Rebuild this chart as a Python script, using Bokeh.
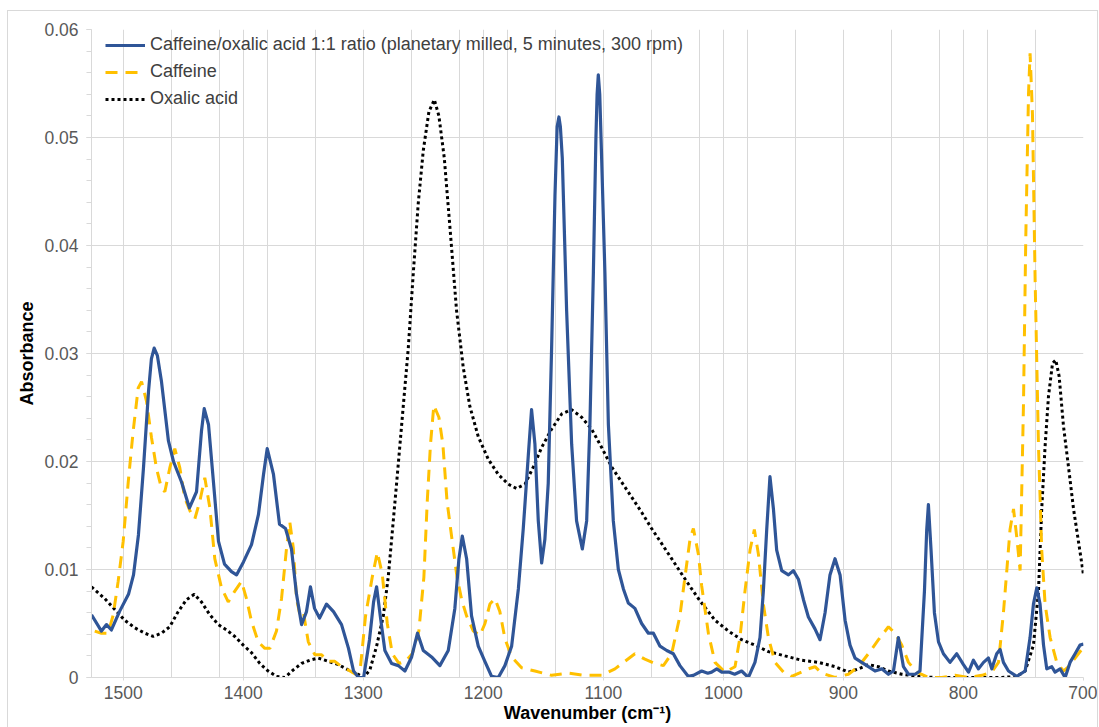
from bokeh.plotting import figure
from bokeh.models import Range1d, FixedTicker, CustomJSTickFormatter, Legend, LegendItem
from bokeh.embed import file_html
from bokeh.resources import INLINE

# ATR-IR absorbance spectra, (wavenumber cm^-1, absorbance)
MIXTURE = [
    (1526.4, 0.0058), (1518.1, 0.0043), (1513.9, 0.0049), (1509.8, 0.0044), (1503.1, 0.0061),
    (1495.6, 0.0077), (1491.4, 0.0095), (1487.3, 0.0132), (1483.1, 0.0194), (1478.9, 0.0265),
    (1476.5, 0.0295), (1474.2, 0.0305), (1471.5, 0.0298), (1468.1, 0.0274), (1462.3, 0.0219),
    (1458.1, 0.0200), (1451.4, 0.0181),
    (1444.8, 0.0157), (1438.9, 0.0172), (1434.8, 0.0228), (1432.5, 0.0249), (1428.9, 0.0234),
    (1424.8, 0.0181), (1420.6, 0.0126), (1415.6, 0.0105), (1409.8, 0.0098), (1405.6, 0.0095),
    (1399.8, 0.0107), (1393.1, 0.0123), (1387.3, 0.0151), (1383.1, 0.0188), (1380.0, 0.0212),
    (1374.8, 0.0188), (1369.8, 0.0142), (1364.8, 0.0138), (1359.8, 0.0119), (1355.6, 0.0077),
    (1351.4, 0.0049), (1347.3, 0.0061), (1344.0, 0.0084), (1340.6, 0.0064), (1336.4, 0.0055),
    (1330.6, 0.0068), (1324.8, 0.0061), (1318.1, 0.0049), (1312.3, 0.0027), (1308.1, 0.0006),
    (1303.9, 0.0000), (1299.7, 0.0000), (1294.8, 0.0035), (1291.4, 0.0070), (1288.9, 0.0084),
    (1285.6, 0.0055), (1282.0, 0.0025), (1276.4, 0.0013), (1270.8, 0.0011), (1265.3, 0.0006),
    (1259.7, 0.0019), (1254.8, 0.0041), (1250.0, 0.0025), (1243.1, 0.0019), (1236.2, 0.0011),
    (1229.2, 0.0025), (1223.7, 0.0064), (1220.3, 0.0110), (1217.5, 0.0131), (1213.9, 0.0110),
    (1209.8, 0.0057), (1204.2, 0.0029), (1198.7, 0.0015), (1193.1, 0.0001), (1187.5, 0.0000),
    (1182.0, 0.0011), (1176.4, 0.0029), (1170.8, 0.0082), (1166.7, 0.0138), (1162.5, 0.0206),
    (1159.8, 0.0248), (1157.0, 0.0216), (1154.2, 0.0145), (1151.4, 0.0106), (1148.7, 0.0128),
    (1145.9, 0.0180), (1143.1, 0.0305), (1140.3, 0.0446), (1138.5, 0.0510), (1137.0, 0.0519),
    (1135.8, 0.0510), (1134.2, 0.0481),
    (1130.6, 0.0340), (1126.4, 0.0216), (1122.3, 0.0145), (1117.5, 0.0119), (1113.9, 0.0145),
    (1111.2, 0.0234), (1108.3, 0.0375), (1106.2, 0.0499), (1105.2, 0.0540), (1104.2, 0.0558),
    (1103.0, 0.0540), (1101.4, 0.0480),
    (1098.7, 0.0375), (1095.8, 0.0234), (1091.7, 0.0145), (1087.5, 0.0100), (1083.3, 0.0082),
    (1079.2, 0.0069), (1073.7, 0.0064), (1068.1, 0.0050), (1062.5, 0.0041), (1058.3, 0.0041),
    (1052.8, 0.0029), (1047.2, 0.0025), (1041.7, 0.0022), (1036.2, 0.0011), (1029.2, 0.0001),
    (1025.0, 0.0002), (1018.1, 0.0006), (1013.0, 0.0004), (1009.8, 0.0005), (1005.5, 0.0008),
    (1001.4, 0.0005), (995.5, 0.0005), (990.6, 0.0003), (984.8, 0.0006), (979.2, 0.0000),
    (973.7, 0.0014), (969.5, 0.0037), (966.7, 0.0080), (963.9, 0.0137), (961.2, 0.0186),
    (958.3, 0.0156), (955.6, 0.0118), (951.4, 0.0099), (945.8, 0.0095), (941.7, 0.0099),
    (937.5, 0.0091), (933.3, 0.0072), (929.2, 0.0056), (923.7, 0.0045), (919.5, 0.0035),
    (915.3, 0.0060), (911.2, 0.0095), (907.0, 0.0110), (902.8, 0.0095), (898.6, 0.0053),
    (894.5, 0.0030), (890.3, 0.0018), (884.8, 0.0014), (879.2, 0.0010), (873.7, 0.0006),
    (868.1, 0.0008), (862.5, 0.0003), (858.3, 0.0006), (854.2, 0.0037), (850.0, 0.0010),
    (845.8, 0.0003), (840.3, 0.0003), (836.2, 0.0006), (832.5, 0.0080), (830.6, 0.0137),
    (829.2, 0.0160), (827.0, 0.0118), (824.2, 0.0060), (820.8, 0.0033), (816.7, 0.0022),
    (811.2, 0.0014), (805.6, 0.0022), (800.0, 0.0012), (795.8, 0.0005), (791.7, 0.0016),
    (787.5, 0.0008), (783.3, 0.0014), (779.2, 0.0018), (776.4, 0.0008), (772.3, 0.0022),
    (769.5, 0.0026), (766.7, 0.0014), (762.5, 0.0006), (755.6, 0.0001), (748.6, 0.0006),
    (744.5, 0.0037), (741.7, 0.0068), (738.9, 0.0083), (736.2, 0.0068), (733.3, 0.0030),
    (730.6, 0.0008), (726.4, 0.0010), (723.7, 0.0005), (719.5, 0.0008), (715.3, 0.0000),
    (711.2, 0.0014), (707.0, 0.0022), (702.9, 0.0030), (700.0, 0.0031),
]

CAFFEINE = [
    (1523.7, 0.0043), (1518.1, 0.0041), (1512.5, 0.0041), (1508.3, 0.0058), (1504.2, 0.0089),
    (1500.0, 0.0126), (1495.8, 0.0181), (1491.7, 0.0228), (1487.5, 0.0268), (1484.7, 0.0274),
    (1480.6, 0.0256), (1476.4, 0.0222), (1472.3, 0.0194), (1468.1, 0.0175), (1465.3, 0.0172),
    (1461.2, 0.0194), (1457.0, 0.0212), (1452.8, 0.0194), (1448.7, 0.0166), (1443.1, 0.0151),
    (1440.3, 0.0147), (1436.2, 0.0163), (1432.0, 0.0185), (1427.8, 0.0157), (1423.7, 0.0110),
    (1418.1, 0.0083), (1412.5, 0.0070), (1407.0, 0.0080), (1401.4, 0.0089), (1397.3, 0.0073),
    (1393.1, 0.0052), (1387.5, 0.0033), (1382.0, 0.0027), (1377.8, 0.0027), (1372.3, 0.0043),
    (1368.1, 0.0073), (1363.9, 0.0120), (1361.2, 0.0144), (1358.3, 0.0120), (1355.6, 0.0073),
    (1352.8, 0.0058), (1350.0, 0.0061), (1345.8, 0.0033), (1340.3, 0.0021), (1334.7, 0.0021),
    (1329.2, 0.0015), (1323.7, 0.0015), (1318.1, 0.0010), (1312.5, 0.0007), (1306.4, 0.0003),
    (1302.5, 0.0008), (1298.1, 0.0057), (1292.5, 0.0093), (1288.3, 0.0116), (1284.2, 0.0096),
    (1280.0, 0.0050), (1275.8, 0.0022), (1270.3, 0.0013), (1264.7, 0.0015), (1259.2, 0.0022),
    (1253.7, 0.0043), (1249.5, 0.0093), (1246.7, 0.0163), (1244.0, 0.0216), (1241.2, 0.0252),
    (1237.0, 0.0241), (1233.7, 0.0216), (1230.2, 0.0163), (1226.1, 0.0128), (1221.9, 0.0093),
    (1217.8, 0.0071), (1213.9, 0.0057), (1208.3, 0.0043), (1202.8, 0.0039), (1198.6, 0.0050),
    (1194.5, 0.0068), (1190.3, 0.0073), (1186.2, 0.0061), (1182.0, 0.0036), (1176.4, 0.0019),
    (1168.1, 0.0009), (1157.0, 0.0006), (1143.1, 0.0002), (1129.2, 0.0004), (1115.3, 0.0002),
    (1101.4, 0.0002), (1090.3, 0.0008), (1082.0, 0.0015), (1073.7, 0.0022), (1065.4, 0.0017),
    (1057.0, 0.0013), (1050.0, 0.0011), (1043.1, 0.0022), (1036.2, 0.0057), (1032.0, 0.0093),
    (1027.8, 0.0128), (1025.0, 0.0138), (1020.8, 0.0114), (1018.1, 0.0085), (1012.5, 0.0041),
    (1007.0, 0.0014), (998.7, 0.0005), (990.3, 0.0010), (986.2, 0.0037), (982.0, 0.0080),
    (977.8, 0.0118), (974.2, 0.0137), (970.8, 0.0114), (966.7, 0.0068), (962.5, 0.0037),
    (957.0, 0.0014), (950.0, 0.0005), (943.1, 0.0001), (934.8, 0.0005), (929.2, 0.0008),
    (923.7, 0.0010), (918.1, 0.0004), (907.0, 0.0000), (895.8, 0.0003), (887.5, 0.0010),
    (879.2, 0.0022), (870.8, 0.0035), (862.5, 0.0047), (857.0, 0.0041), (851.4, 0.0030),
    (845.8, 0.0014), (838.9, 0.0005), (829.2, 0.0000), (818.1, 0.0000), (807.0, 0.0002),
    (795.8, 0.0000), (784.7, 0.0002), (776.4, 0.0005), (770.8, 0.0014), (766.7, 0.0060),
    (763.9, 0.0099), (761.2, 0.0137), (758.3, 0.0156), (755.6, 0.0130), (752.8, 0.0099),
    (750.0, 0.0253), (748.1, 0.0406), (745.8, 0.0541), (744.5, 0.0578), (742.5, 0.0521),
    (740.3, 0.0368), (737.5, 0.0214), (734.8, 0.0118), (732.0, 0.0068), (727.8, 0.0037),
    (722.3, 0.0014), (716.7, 0.0006), (712.5, 0.0010), (707.0, 0.0018), (701.4, 0.0026),
    (700.0, 0.0028),
]

OXALIC_ACID = [
    (1526.4, 0.0084), (1515.3, 0.0073), (1507.0, 0.0063), (1498.7, 0.0053), (1490.3, 0.0046),
    (1482.0, 0.0041), (1475.0, 0.0038), (1468.1, 0.0041), (1461.2, 0.0047), (1454.2, 0.0061),
    (1447.3, 0.0072), (1440.8, 0.0077), (1434.8, 0.0070), (1427.8, 0.0058), (1420.8, 0.0049),
    (1413.9, 0.0044), (1407.0, 0.0038), (1400.0, 0.0030), (1393.1, 0.0023), (1386.2, 0.0013),
    (1379.2, 0.0006), (1372.3, 0.0001), (1365.3, 0.0000), (1358.3, 0.0007), (1351.4, 0.0013),
    (1344.5, 0.0016), (1337.5, 0.0018), (1329.2, 0.0015), (1320.8, 0.0012), (1312.5, 0.0007),
    (1304.2, 0.0003), (1299.7, 0.0000), (1294.5, 0.0007), (1288.9, 0.0029), (1283.3, 0.0057),
    (1279.2, 0.0093), (1275.0, 0.0145), (1270.8, 0.0198), (1266.7, 0.0251), (1262.5, 0.0305),
    (1258.3, 0.0375), (1254.2, 0.0439), (1250.0, 0.0488), (1245.3, 0.0524), (1240.8, 0.0535),
    (1237.0, 0.0520), (1232.5, 0.0481), (1227.3, 0.0410), (1222.3, 0.0340), (1216.7, 0.0287),
    (1211.2, 0.0251), (1204.2, 0.0223), (1195.8, 0.0202), (1187.5, 0.0188), (1179.2, 0.0179),
    (1172.3, 0.0175), (1165.3, 0.0179), (1158.3, 0.0195), (1151.4, 0.0213), (1143.1, 0.0230),
    (1134.7, 0.0244), (1126.4, 0.0248), (1118.1, 0.0241), (1109.8, 0.0230), (1101.4, 0.0213),
    (1093.1, 0.0195), (1084.8, 0.0181), (1076.4, 0.0167), (1068.1, 0.0153), (1059.8, 0.0138),
    (1051.4, 0.0124), (1043.1, 0.0110), (1034.8, 0.0096), (1026.4, 0.0082), (1019.5, 0.0071),
    (1007.0, 0.0053), (995.8, 0.0043), (984.8, 0.0035), (973.7, 0.0030), (962.5, 0.0024),
    (948.7, 0.0020), (934.8, 0.0016), (920.8, 0.0014), (907.0, 0.0010), (895.8, 0.0005),
    (887.5, 0.0008), (879.2, 0.0012), (870.8, 0.0010), (862.5, 0.0006), (851.4, 0.0003),
    (837.5, 0.0001), (823.6, 0.0000), (795.8, 0.0000), (768.1, 0.0000), (755.6, 0.0001),
    (748.6, 0.0006), (741.7, 0.0030), (737.5, 0.0080), (734.8, 0.0156), (732.0, 0.0214),
    (729.2, 0.0260), (725.8, 0.0291), (723.1, 0.0294), (720.3, 0.0279), (716.7, 0.0233),
    (712.5, 0.0195), (708.3, 0.0156), (704.2, 0.0126), (700.0, 0.0095),
]

SERIES_LABELS = [
    "Caffeine/oxalic acid 1:1 ratio (planetary milled, 5 minutes, 300 rpm)",
    "Caffeine",
    "Oxalic acid",
]

X_TICKS = [1500, 1400, 1300, 1200, 1100, 1000, 900, 800, 700]
Y_TICKS = [0, 0.01, 0.02, 0.03, 0.04, 0.05, 0.06]

FONT = "Liberation Sans"
GRID = "#d9d9d9"

p = figure(
    width=1091, height=717,
    x_range=Range1d(1526.4, 700), y_range=Range1d(0, 0.06),
    output_backend="svg", toolbar_location=None,
    min_border_left=83, min_border_right=16, min_border_top=18, min_border_bottom=51,
)
p.margin = (10, 0, 0, 7)
p.styles = {
    "border-top": "1px solid #d9d9d9",
    "border-left": "1px solid #d9d9d9",
    "border-right": "1px solid #d9d9d9",
}
p.outline_line_color = None
p.background_fill_color = "white"
p.border_fill_color = "white"

# vertical grid: every 40 cm-1 from 1500 plus every hundred
grid_x = sorted(set([1500 - 40 * k for k in range(21)] + X_TICKS), reverse=True)
p.xgrid.ticker = FixedTicker(ticks=grid_x)
p.xgrid.grid_line_color = GRID
p.ygrid.grid_line_color = GRID

p.xaxis.ticker = FixedTicker(ticks=X_TICKS)
p.yaxis.ticker = FixedTicker(ticks=Y_TICKS, minor_ticks=[round(0.002 * k, 4) for k in range(31)])
p.yaxis.formatter = CustomJSTickFormatter(code="return tick === 0 ? '0' : tick.toFixed(2);")

for ax in (p.xaxis[0], p.yaxis[0]):
    ax.axis_line_color = GRID
    ax.major_tick_line_color = GRID
    ax.minor_tick_line_color = GRID
    ax.major_tick_in = 0
    ax.major_tick_out = 5
    ax.minor_tick_in = 0
    ax.minor_tick_out = 5
    ax.major_label_text_font = FONT
    ax.major_label_text_font_size = "17.5px"
    ax.major_label_text_color = "#595959"
    ax.axis_label_text_font = FONT
    ax.axis_label_text_font_size = "18px"
    ax.axis_label_text_font_style = "bold"
    ax.axis_label_text_color = "#000000"

p.xaxis.minor_tick_line_color = None
p.xaxis.major_tick_out = 3
p.xaxis.axis_label = "Wavenumber (cm\u207b\u00b9)"
p.xaxis.major_label_standoff = 5
p.xaxis.axis_label_standoff = 1
p.yaxis.axis_label = "Absorbance"
p.yaxis.major_label_standoff = 8
p.yaxis.axis_label_standoff = 4


def split(pairs):
    return [w for w, _ in pairs], [a for _, a in pairs]


mx, my = split(MIXTURE)
cx, cy = split(CAFFEINE)
ox, oy = split(OXALIC_ACID)

r_ox = p.line(ox, oy, line_color="#000000", line_width=3, line_dash="3 3")
r_caf = p.line(cx, cy, line_color="#FFC000", line_width=3, line_dash="12 8")
r_mix = p.line(mx, my, line_color="#2F5597", line_width=3.2, line_join="round")

legend = Legend(
    items=[
        LegendItem(label=SERIES_LABELS[0], renderers=[r_mix]),
        LegendItem(label=SERIES_LABELS[1], renderers=[r_caf]),
        LegendItem(label=SERIES_LABELS[2], renderers=[r_ox]),
    ],
    location=(14, 568),
)
legend.border_line_color = None
legend.background_fill_alpha = 0
legend.margin = 0
legend.padding = 4
legend.spacing = 6
legend.glyph_width = 40
legend.glyph_height = 20
legend.label_height = 20
legend.label_standoff = 5
legend.label_text_font = FONT
legend.label_text_font_size = "18px"
legend.label_text_color = "#404040"
p.add_layout(legend)

open("out.html", "w").write(file_html(p, INLINE))
